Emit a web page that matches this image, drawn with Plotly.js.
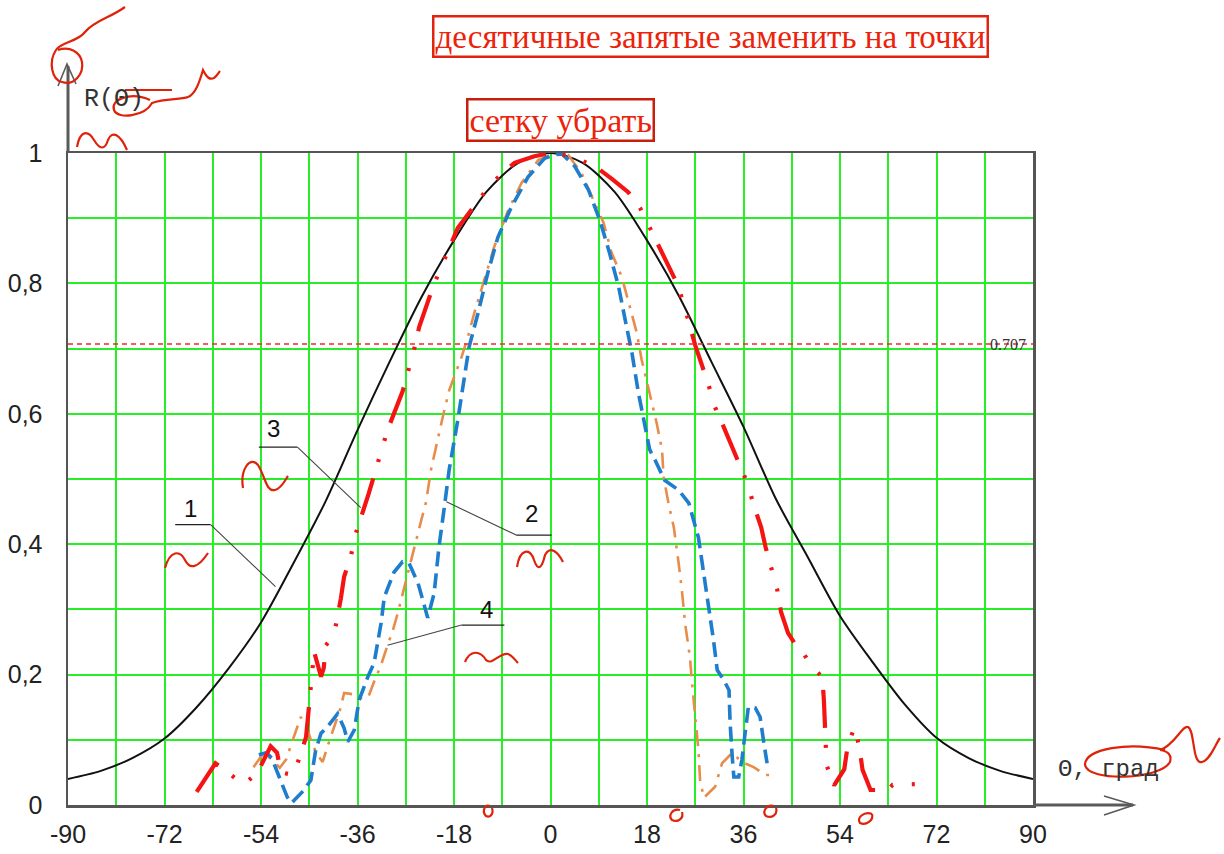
<!DOCTYPE html>
<html><head><meta charset="utf-8">
<script src="https://cdn.plot.ly/plotly-3.0.1.min.js"></script>
<style>html,body{margin:0;padding:0;background:#fff}#chart{width:1224px;height:854px}</style>
</head><body><div id="chart"></div>
<script>
// ---- data ----
const theta1 = [-90,-84,-78,-72,-66,-60,-54,-48,-42,-36,-30,-24,-18,-12,-6,0,6,12,18,24,30,36,42,48,54,60,66,72,78,84,90];
const r1     = [0.04,0.052,0.072,0.102,0.15,0.21,0.28,0.37,0.465,0.575,0.68,0.78,0.866,0.94,0.985,1,0.985,0.94,0.866,0.78,0.68,0.58,0.47,0.38,0.29,0.22,0.155,0.103,0.072,0.052,0.04];

const theta3 = [-66,-64,-62.5,-60,-57.3,-54.7,-53,-52.2,-51,-50.3,-47.9,-45.6,-45.2,-44.6,-44.1,-42.8,-42.3,-41.9,-40.4,-39.1,-38.5,-37.2,-36.3,-33.9,-30.4,-27.6,-26.4,-25.4,-24.5,-21.9,-20.4,-18.9,-17.3,-12.9,-10.7,-6.7,-3,0,2,5.5,8.9,11.5,14.5,16.7,18.5,20.2,23.6,24.8,26,27,29.5,30.7,32.3,33.9,35.7,36.7,37.9,39.3,40.1,42.3,43,44.3,46,47,48.8,50.7,51,51.5,52.9,54.8,55.4,56.7,57.6,58.2,59.7,62.9,63.8,68.1];
const r3     = [0.02,0.045,0.064,0.049,0.031,0.049,0.075,0.09,0.08,0.05,0.046,0.104,0.138,0.19,0.235,0.197,0.21,0.245,0.26,0.317,0.35,0.383,0.417,0.478,0.575,0.634,0.667,0.7,0.733,0.795,0.825,0.856,0.885,0.933,0.956,0.985,0.995,1,0.998,0.99,0.976,0.96,0.94,0.916,0.885,0.859,0.8,0.77,0.733,0.705,0.644,0.61,0.58,0.548,0.514,0.494,0.46,0.426,0.396,0.33,0.296,0.264,0.242,0.235,0.212,0.196,0.16,0.061,0.03,0.055,0.089,0.12,0.089,0.054,0.023,0.023,0.031,0.032];

const theta2 = [-54.4,-53,-52,-50.9,-49.1,-48.3,-46.3,-44.7,-43.8,-42.8,-41.6,-39.7,-38.5,-37.8,-36.6,-35.7,-34.1,-32.9,-31.6,-31,-29.2,-27.6,-26.4,-24.7,-22.9,-21.7,-20.8,-19.8,-18.9,-17.3,-15.2,-13.5,-11.7,-9.8,-7.3,-4.2,-1.1,2,4.5,7.1,9.2,11,12.7,14.2,15.2,16.4,17.6,18.5,19.5,21.3,23.9,25.8,27.6,28.6,29.5,30.4,31.1,32.3,33.3,33.5,33.9,34.2,35.1,35.7,36.3,36.9,38.2,39.1,39.8,40.4];
const r2     = [0.077,0.08,0.072,0.049,0.012,0.003,0.02,0.038,0.084,0.11,0.12,0.14,0.118,0.097,0.115,0.161,0.196,0.218,0.279,0.319,0.357,0.373,0.371,0.34,0.287,0.325,0.396,0.457,0.514,0.59,0.702,0.755,0.816,0.871,0.917,0.963,0.992,1,0.98,0.943,0.897,0.847,0.795,0.733,0.693,0.632,0.58,0.545,0.529,0.498,0.483,0.463,0.41,0.356,0.304,0.253,0.207,0.192,0.176,0.126,0.074,0.043,0.043,0.069,0.11,0.15,0.149,0.135,0.095,0.064];

const theta4 = [-55.4,-53.5,-52,-50.5,-49.3,-47.9,-46.6,-45.5,-44.5,-43.5,-42.5,-41.3,-39.1,-38.5,-37,-35.4,-34,-33,-31.6,-30.4,-29.4,-28.5,-27.3,-26,-25.1,-24.1,-23.2,-22.6,-22.3,-20.1,-18.9,-16.6,-15.4,-14.2,-12.3,-10.5,-7.9,-5.4,-2.3,0,3.3,5.8,8,9.9,11.4,13.3,14.8,16.1,17,18.3,19.8,20.8,21.1,22,23,23.9,24.5,25.1,26,26.4,27,27.6,27.9,28.6,30.7,32,33.9,35.7,37.9,40.1,41.7];
const r4     = [0.058,0.08,0.07,0.057,0.07,0.104,0.135,0.12,0.095,0.077,0.066,0.097,0.15,0.172,0.17,0.164,0.165,0.187,0.215,0.245,0.268,0.294,0.334,0.376,0.406,0.437,0.465,0.498,0.514,0.595,0.636,0.687,0.718,0.755,0.805,0.856,0.912,0.954,0.989,0.997,0.997,0.969,0.928,0.893,0.847,0.81,0.764,0.724,0.683,0.637,0.586,0.545,0.503,0.463,0.426,0.371,0.33,0.279,0.227,0.187,0.135,0.084,0.038,0.011,0.028,0.064,0.08,0.066,0.058,0.046,0.046];

const halfPower = 0.707;
const xTickVals = [-90,-72,-54,-36,-18,0,18,36,54,72,90];
const xTickText = ["-90","-72","-54","-36","-18","0","18","36","54","72","90"];
const yTickVals = [0,0.2,0.4,0.6,0.8,1];
const yTickText = ["0","0,2","0,4","0,6","0,8","1"];

// curve number labels with underline + leader
const curveLabels = [
  {t:"1", tx:-67.2, ty:0.455, u0:-70.0, u1:-63.4, uy:0.430, lx:-51.3, ly:0.335, from:-63.4},
  {t:"3", tx:-51.6, ty:0.578, u0:-54.4, u1:-47.2, uy:0.549, lx:-35.4, ly:0.456, from:-47.2},
  {t:"2", tx:-3.5,  ty:0.447, u0:-6.4,  u1:0.2,   uy:0.414, lx:-19.4, ly:0.465, from:-6.4},
  {t:"4", tx:-11.9, ty:0.300, u0:-16.6, u1:-8.6,  uy:0.276, lx:-30.4, ly:0.245, from:-16.6}
];

// ---- layout helpers (pixel -> paper) ----
const L=68, R=191, T=153, B=49, W=1224, H=854;
const PW=W-L-R, PH=H-T-B;
const px = x => (x-L)/PW;
const py = y => (H-B-y)/PH;
// build an svg path in paper coords from a pixel-space path description
const pp = s => s.replace(/(-?\d+(?:\.\d+)?),(-?\d+(?:\.\d+)?)/g, (m,a,b) => px(+a).toFixed(5)+','+py(+b).toFixed(5));

const grid = 'rgb(40,238,40)';
const traces = [
  {x:theta1, y:r1, mode:'lines', line:{color:'#111', width:2, shape:'spline', smoothing:0.8}, hoverinfo:'skip'},
  {x:theta4, y:r4, mode:'lines', line:{color:'rgb(232,140,75)', width:2.6, dash:'16px,8px,3px,8px'}, hoverinfo:'skip'},
  {x:theta2, y:r2, mode:'lines', line:{color:'rgb(30,125,205)', width:3.6, dash:'15px,7px'}, hoverinfo:'skip'},
  {x:theta3, y:r3, mode:'lines', line:{color:'rgb(245,20,20)', width:4.2, dash:'38px,17px,3px,19px,3px,16px'}, hoverinfo:'skip'},
  {x:[-90,90], y:[halfPower,halfPower], mode:'lines', line:{color:'rgb(240,40,40)', width:1.5, dash:'5px,4px'}, hoverinfo:'skip'}
];

const shapes = [];
const annotations = [];
// axis extensions with arrows
const axCol = '#5a5a5a';
shapes.push({type:'line', xref:'paper', yref:'paper', x0:0, x1:0, y0:1, y1:py(66), line:{color:axCol, width:3}});
shapes.push({type:'path', xref:'paper', yref:'paper', path:pp('M 58,86 L 67,64 L 76,84'), line:{color:axCol, width:1.6}});
shapes.push({type:'line', xref:'paper', yref:'paper', x0:1, x1:px(1133), y0:0, y1:0, line:{color:axCol, width:3}});
shapes.push({type:'path', xref:'paper', yref:'paper', path:pp('M 1104,796 L 1134,805 L 1104,815'), line:{color:axCol, width:1.6}});

// leaders
curveLabels.forEach(c => {
  shapes.push({type:'line', xref:'x', yref:'y', x0:c.u0, x1:c.u1, y0:c.uy, y1:c.uy, line:{color:'#222', width:1.3}});
  shapes.push({type:'line', xref:'x', yref:'y', x0:c.from, x1:c.lx, y0:c.uy, y1:c.ly, line:{color:'#444', width:1.1}});
  annotations.push({x:c.tx, y:c.ty, xref:'x', yref:'y', text:c.t, showarrow:false, font:{family:'Liberation Sans, Arial', size:24, color:'#111'}, xanchor:'center', yanchor:'middle'});
});

annotations.push({x:85.3, y:halfPower, xref:'x', yref:'y', text:'0.707', showarrow:false, font:{family:'Liberation Serif, serif', size:16, color:'#333'}, xanchor:'center', yanchor:'middle'});
annotations.push({x:px(82), y:py(100), xref:'paper', yref:'paper', text:'R(Θ)', showarrow:false, font:{family:'Liberation Mono, Courier New, monospace', size:25, color:'#333'}, xanchor:'left', yanchor:'middle'});
annotations.push({x:px(1056), y:py(769), xref:'paper', yref:'paper', text:'Θ, град', showarrow:false, font:{family:'Liberation Mono, Courier New, monospace', size:24, color:'#333'}, xanchor:'left', yanchor:'middle'});

// editorial notes (red boxes)
const noteRed = 'rgb(235,35,10)';
annotations.push({x:px(710), y:py(36), xref:'paper', yref:'paper', text:'десятичные запятые заменить на точки', showarrow:false, font:{family:'Liberation Serif, Times New Roman, serif', size:33, color:noteRed}, bordercolor:'rgb(225,35,15)', borderwidth:2.5, borderpad:1, bgcolor:'#fff', xanchor:'center', yanchor:'middle'});
annotations.push({x:px(560), y:py(120), xref:'paper', yref:'paper', text:'сетку убрать', showarrow:false, font:{family:'Liberation Serif, Times New Roman, serif', size:34, color:noteRed}, bordercolor:'rgb(200,30,10)', borderwidth:2.5, borderpad:1, bgcolor:'#fff', xanchor:'center', yanchor:'middle'});

// editorial handwritten marks (pixel-space strokes)
const pen = {color:'rgb(222,35,10)', width:2.2};
const strokes = [
  'M 125,7 C 110,18 95,20 85,32 C 78,42 60,42 56,50 C 48,62 52,80 62,82 C 74,86 84,74 82,62 C 80,52 70,46 58,50',
  'M 125,90 L 172,90',
  'M 150,100 C 130,91 110,100 114,110 C 118,120 145,116 152,103 C 165,98 180,100 188,97 C 196,94 200,80 203,70 C 207,78 210,80 214,78 C 217,76 219,72 220,71',
  'M 77,147 C 80,130 88,130 94,140 C 100,150 105,150 108,140 C 112,130 120,134 127,150',
  'M 243,488 C 240,470 250,455 258,465 C 266,478 266,492 275,490 C 282,488 285,480 288,476',
  'M 165,568 C 170,550 180,550 185,560 C 190,570 198,568 208,553',
  'M 517,567 C 520,548 530,548 534,560 C 538,572 542,568 545,555 C 550,545 558,552 563,562',
  'M 465,662 C 470,650 480,650 486,660 C 492,666 500,652 508,654 C 512,655 515,660 518,663',
  'M 1165,750 C 1130,742 1085,748 1085,765 C 1088,782 1160,780 1170,762 C 1172,755 1168,751 1160,750 C 1175,745 1182,725 1188,727 C 1195,730 1192,765 1202,762 C 1210,760 1215,745 1220,738',
  'M 490,806 C 484,804 482,812 486,816 C 490,818 494,814 492,808',
  'M 680,810 C 672,808 668,816 672,820 C 678,823 684,818 682,812',
  'M 774,806 C 766,804 762,812 766,816 C 772,819 778,814 776,808',
  'M 872,814 C 864,811 856,818 860,823 C 866,826 874,820 872,814'
];
strokes.forEach(s => shapes.push({type:'path', xref:'paper', yref:'paper', path:pp(s), line:pen}));

const layout = {
  width:W, height:H, showlegend:false,
  margin:{l:L, r:R, t:T, b:B, pad:0},
  paper_bgcolor:'#fff', plot_bgcolor:'#fff',
  xaxis:{range:[-90,90], tickvals:xTickVals, ticktext:xTickText, showgrid:true, gridcolor:grid, gridwidth:2,
         minor:{dtick:9, tick0:-90, showgrid:true, gridcolor:grid, gridwidth:2},
         zeroline:false, showline:true, mirror:true, linecolor:'#555', linewidth:2.5, ticks:'',
         tickfont:{family:'Liberation Sans, Arial', size:25, color:'#222'}, ticklabelstandoff:5, fixedrange:true},
  yaxis:{range:[0,1], tickvals:yTickVals, ticktext:yTickText, showgrid:true, gridcolor:grid, gridwidth:2,
         minor:{dtick:0.1, tick0:0, showgrid:true, gridcolor:grid, gridwidth:2},
         zeroline:false, showline:true, mirror:true, linecolor:'#555', linewidth:2.5, ticks:'',
         tickfont:{family:'Liberation Sans, Arial', size:25, color:'#222'}, ticklabelstandoff:18, fixedrange:true},
  shapes:shapes, annotations:annotations
};
Plotly.newPlot('chart', traces, layout, {staticPlot:true, displayModeBar:false});
</script></body></html>
